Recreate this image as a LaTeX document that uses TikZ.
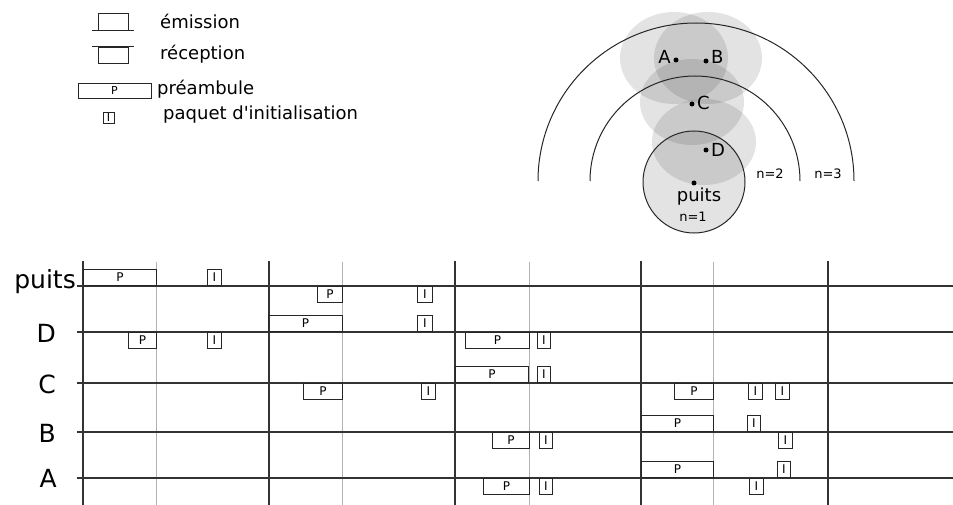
\documentclass[tikz,border=0pt]{standalone}
\usepackage{fontspec}
\setmainfont{DejaVu Sans}
\usepackage{tikz}
\usetikzlibrary{positioning}

\begin{document}
\begin{tikzpicture}[x=1pt, y=-1pt,
    rowline/.style={draw=black!80, line width=1.1pt},
    slot/.style={draw=black!80, line width=1.1pt},
    subslot/.style={draw=black!30, line width=0.9pt},
    pkt/.style={draw=black!85, line width=0.9pt, inner sep=0pt, minimum height=16pt,
        font=\fontsize{12}{12}\selectfont},
    emit/.style={pkt, anchor=south west},
    recv/.style={pkt, anchor=north west},
    rowlabel/.style={font=\fontsize{25}{25}\selectfont, inner sep=0pt},
    legtext/.style={font=\fontsize{18}{18}\selectfont, anchor=base west, inner sep=0pt},
    cover/.style={fill=black, fill opacity=0.11},
    station/.style={circle, fill=black, inner sep=0pt, minimum size=5pt},
    stlabel/.style={font=\fontsize{18}{18}\selectfont, inner sep=0pt},
    hop/.style={font=\fontsize{13}{13}\selectfont, anchor=base, inner sep=0pt}]

    \useasboundingbox (0,0) rectangle (953,505);

    % Legend
    \node[draw=black!85, line width=0.9pt, minimum width=30pt, minimum height=17pt, inner sep=0pt] (lgE) at (113,21.5) {};
    \draw[line width=0.9pt, black!85] ([xshift=-6pt]lgE.south west) -- ([xshift=6pt]lgE.south east);
    \node[legtext] (lgEt) at (160,29) {émission};
    \node[draw=black!85, line width=0.9pt, minimum width=30pt, minimum height=16pt, inner sep=0pt] (lgR) at (113,55) {};
    \draw[line width=0.9pt, black!85] ([xshift=-6pt]lgR.north west) -- ([xshift=6pt]lgR.north east);
    \node[legtext] (lgRt) at (160,60) {réception};
    \node[pkt, minimum width=73pt, minimum height=15pt, font=\fontsize{11}{11}\selectfont] (lgP) at (114.5,90.5) {P};
    \node[legtext] (lgPt) at (157,95) {préambule};
    \node[pkt, minimum width=11pt, minimum height=11pt, font=\fontsize{11}{11}\selectfont] (lgI) at (108.5,117.5) {I};
    \node[legtext] (lgIt) at (163,120) {paquet d\textquotesingle initialisation};

    % Radio ranges
    \fill[cover] (674,58) ellipse [x radius=54pt, y radius=46pt];
    \fill[cover] (708,58) ellipse [x radius=54pt, y radius=46pt];
    \fill[cover] (692,102) ellipse [x radius=52pt, y radius=43pt];
    \fill[cover] (704,142) ellipse [x radius=52pt, y radius=43pt];
    \filldraw[cover, draw=black!85, line width=1pt] (694,182) circle [radius=51pt];

    % Hop rings
    \draw[line width=1pt, black!85] (590,181) arc [start angle=180, end angle=0, radius=105pt];
    \draw[line width=1pt, black!85] (538,181) arc [start angle=180, end angle=0, radius=158pt];

    % Stations
    \node[station] (sA) at (676,60) {};
    \node[station] (sB) at (706,61) {};
    \node[station] (sC) at (692,104) {};
    \node[station] (sD) at (706,150) {};
    \node[station] (sP) at (694,183) {};
    \node[stlabel, anchor=base east] (lA) at (671,64) {A};
    \node[stlabel, anchor=base west] (lB) at (711,64) {B};
    \node[stlabel, anchor=base west] (lC) at (697,110) {C};
    \node[stlabel, anchor=base west] (lD) at (711,157) {D};
    \node[stlabel, anchor=base] (lP) at (699,202) {puits};
    \node[hop] (n1) at (693,222) {n=1};
    \node[hop] (n2) at (770,179) {n=2};
    \node[hop] (n3) at (828,179) {n=3};

    % Time slots
    \foreach \x in {83,269,455,641,828}
        \draw[slot] (\x,261) -- (\x,505);
    \foreach \x in {156,342,529,713}
        \draw[subslot] (\x,262) -- (\x,505);

    % Rows
    \node[rowlabel, anchor=mid east] (puits) at (76,286) {puits};
    \node[rowlabel, anchor=base east] (D) at (56,342) {D};
    \node[rowlabel, anchor=base east] (C) at (56,393) {C};
    \node[rowlabel, anchor=base east] (B) at (56,442) {B};
    \node[rowlabel, anchor=base east] (A) at (57,487) {A};
    \foreach \r/\y in {puits/286, D/332, C/383, B/432, A/478} {
        \coordinate (\r-s) at (77,\y);
        \coordinate (\r-e) at (953,\y);
        \draw[rowline] (\r-s) -- (\r-e);
    }

    % puits
    \node[emit, minimum width=73pt] (pu-e1) at (83,286) {P};
    \node[emit, minimum width=14pt] (pu-e2) at (207,286) {I};
    \node[recv, minimum width=25pt] (pu-r1) at (317,286) {P};
    \node[recv, minimum width=15pt] (pu-r2) at (417,286) {I};

    % D
    \node[emit, minimum width=74pt] (d-e1) at (268,332) {P};
    \node[emit, minimum width=15pt] (d-e2) at (417,332) {I};
    \node[recv, minimum width=28pt] (d-r1) at (128,332) {P};
    \node[recv, minimum width=14pt] (d-r2) at (207,332) {I};
    \node[recv, minimum width=64pt] (d-r3) at (465,332) {P};
    \node[recv, minimum width=13pt] (d-r4) at (537,332) {I};

    % C
    \node[emit, minimum width=73pt] (c-e1) at (455,383) {P};
    \node[emit, minimum width=13pt] (c-e2) at (537,383) {I};
    \node[recv, minimum width=39pt] (c-r1) at (303,383) {P};
    \node[recv, minimum width=14pt] (c-r2) at (421,383) {I};
    \node[recv, minimum width=39pt] (c-r3) at (674,383) {P};
    \node[recv, minimum width=14pt] (c-r4) at (748,383) {I};
    \node[recv, minimum width=14pt] (c-r5) at (775,383) {I};

    % B
    \node[emit, minimum width=72pt] (b-e1) at (641,432) {P};
    \node[emit, minimum width=13pt] (b-e2) at (747,432) {I};
    \node[recv, minimum width=37pt] (b-r1) at (492,432) {P};
    \node[recv, minimum width=13pt] (b-r2) at (539,432) {I};
    \node[recv, minimum width=14pt] (b-r3) at (778,432) {I};

    % A
    \node[emit, minimum width=72pt] (a-e1) at (641,478) {P};
    \node[emit, minimum width=13pt] (a-e2) at (777,478) {I};
    \node[recv, minimum width=46pt] (a-r1) at (483,478) {P};
    \node[recv, minimum width=13pt] (a-r2) at (539,478) {I};
    \node[recv, minimum width=14pt] (a-r3) at (749,478) {I};
\end{tikzpicture}
\end{document}
